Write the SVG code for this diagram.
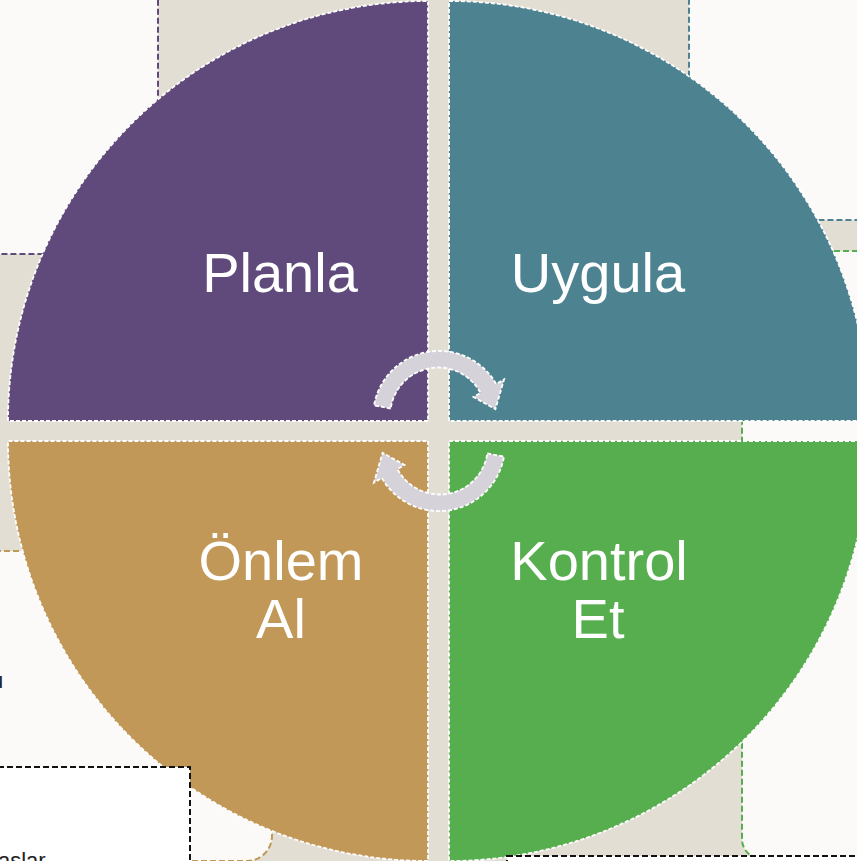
<svg xmlns="http://www.w3.org/2000/svg" width="857" height="861" viewBox="0 0 857 861">
  <style>
    .card { fill: #FBFAF8; stroke-width: 2; stroke-dasharray: 6 3; }
    .quad { stroke: #FFFFFF; stroke-width: 1.8; stroke-dasharray: 4 2; }
    .box { fill: #FFFFFF; stroke: #111111; stroke-width: 2; stroke-dasharray: 6 3; }
    .label { font-family: "Liberation Sans", Arial, sans-serif; font-size: 56px; fill: #FFFFFF; text-anchor: middle; }
    .small { font-family: "Liberation Sans", Arial, sans-serif; font-size: 22px; fill: #222222; }
    .arrow { fill: #D5D2DA; stroke: #FFFFFF; stroke-width: 1.8; stroke-dasharray: 4 2; }
  </style>

  <!-- page background -->
  <rect x="0" y="0" width="857" height="861" fill="#E3DED4"/>

  <!-- background cards -->
  <rect class="card" x="-30" y="-30" width="188" height="284" rx="20" stroke="#604A7B"/>
  <rect class="card" x="689" y="-30" width="200" height="250" rx="20" stroke="#4D8391"/>
  <rect class="card" x="742" y="251" width="150" height="608" rx="20" stroke="#57AE4F"/>
  <rect class="card" x="-30" y="551" width="302" height="310" rx="25" stroke="#C29859"/>

  <!-- quadrants -->
  <g id="planla">
    <path class="quad" d="M428,421 L8,421 A420,420 0 0 1 428,1 Z" fill="#604A7B"/>
    <text class="label" x="280" y="292">Planla</text>
  </g>
  <g id="uygula">
    <path class="quad" d="M449,421 L449,1 A420,420 0 0 1 869,421 Z" fill="#4D8391"/>
    <text class="label" x="598" y="292">Uygula</text>
  </g>
  <g id="kontrol-et">
    <path class="quad" d="M449,441 L869,441 A420,420 0 0 1 449,861 Z" fill="#57AE4F"/>
    <text class="label" x="599" y="580">Kontrol</text>
    <text class="label" x="598" y="638">Et</text>
  </g>
  <g id="onlem-al">
    <path class="quad" d="M428,441 L428,861 A420,420 0 0 1 8,441 Z" fill="#C29859"/>
    <text class="label" x="281" y="580">Önlem</text>
    <text class="label" x="281" y="638">Al</text>
  </g>

  <!-- cycle arrows -->
  <g id="connectors">
    <path class="arrow" d="M390.7,408.5 L374.0,405.5 A66,66 0 0 1 496.2,384.0 L504.0,379.5 L495.4,409.1 L473.5,397.0 L480.6,393.0 A48,48 0 0 0 390.7,408.5 Z"/>
    <path class="arrow" d="M487.3,453.5 L504.0,456.5 A66,66 0 0 1 381.8,478.0 L374.0,482.5 L382.6,452.9 L404.5,465.0 L397.4,469.0 A48,48 0 0 0 487.3,453.5 Z"/>
  </g>

  <!-- partially visible overlay boxes and text -->
  <text class="small" x="-9" y="688">u</text>
  <rect class="box" x="-20" y="767" width="210" height="120"/>
  <text class="small" x="-2" y="868">aslar</text>
  <rect class="box" x="507" y="856" width="370" height="40"/>
</svg>
